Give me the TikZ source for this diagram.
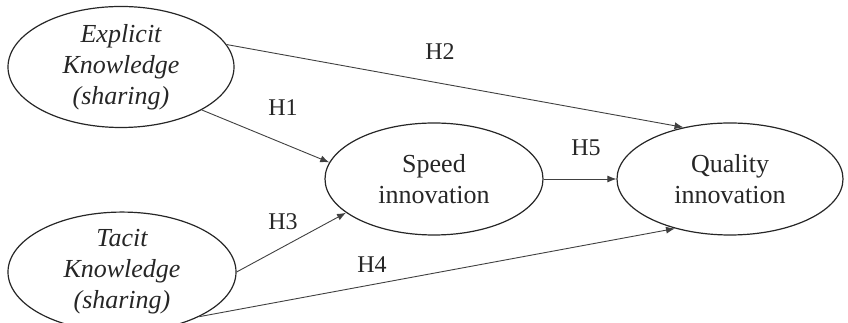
\documentclass[tikz,border=0pt]{standalone}
\usepackage{fontspec}
\setmainfont{Liberation Serif}
\usetikzlibrary{shapes.geometric,arrows.meta}
\begin{document}
\begin{tikzpicture}[x=1pt,y=1pt,
  construct/.style={ellipse,draw=black!85,line width=1.2pt,inner sep=0pt,align=center,
    font=\fontsize{26}{31}\selectfont,text=black!85},
  path/.style={draw=black!75,line width=0.9pt,-{Latex[length=9pt,width=7pt]}},
  hlabel/.style={font=\fontsize{24}{28}\selectfont,text=black!85}]
\useasboundingbox (0,0) rectangle (848,323);
\clip (0,0) rectangle (848,323);
\node[construct,minimum width=226pt,minimum height=114pt] (ex) at (121,256) {\itshape Explicit\\\itshape Knowledge\\\itshape (sharing)};
\node[construct,minimum width=228pt,minimum height=114pt] (ta) at (122,51) {\itshape Tacit\\\itshape Knowledge\\\itshape (sharing)};
\node[construct,minimum width=218pt,minimum height=112pt] (sp) at (434,144) {Speed\\innovation};
\node[construct,minimum width=226pt,minimum height=112pt] (qu) at (730,144) {Quality\\innovation};
\draw[path] (ex.12) -- (qu.132);
\draw[path] (ex.-28) -- (sp.171);
\draw[path] (ta.0) -- (sp.201);
\draw[path] (ta.-30) -- (qu.222);
\draw[path] (sp.east) -- (qu.west);
\node[hlabel] (h2) at (440,271) {H2};
\node[hlabel] (h1) at (283,215) {H1};
\node[hlabel] (h3) at (283,101) {H3};
\node[hlabel] (h4) at (372,58) {H4};
\node[hlabel] (h5) at (586,175) {H5};
\end{tikzpicture}
\end{document}
